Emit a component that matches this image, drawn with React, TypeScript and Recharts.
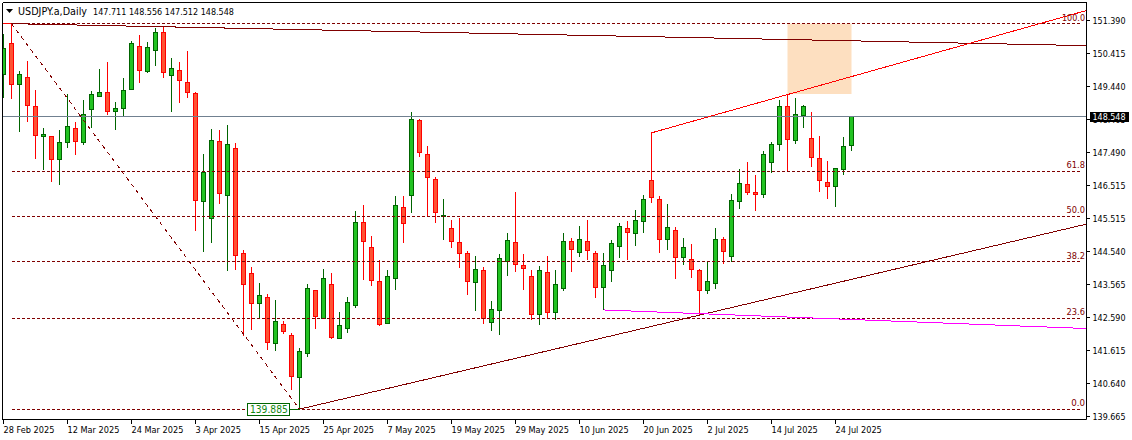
import React from "react";
import {
  ComposedChart,
  Bar,
  XAxis,
  YAxis,
  ReferenceLine,
  ReferenceArea,
  ReferenceDot,
} from "recharts";

const opens = [
  149.80, 150.72, 149.51, 149.71, 148.85, 147.97, 147.97, 147.29, 147.79, 148.20,
  147.79, 148.76, 149.15, 149.27, 148.70, 148.79, 149.36, 150.63, 149.89, 150.51,
  151.04, 149.77, 149.92, 149.56, 149.24, 146.04, 145.54, 147.82, 146.22, 147.61,
  144.50, 143.91, 143.02, 143.20, 141.84, 142.40, 142.08, 140.84, 141.55, 143.41,
  142.58, 143.59, 141.99, 142.29, 142.97, 145.42, 144.68, 143.68, 142.43, 143.76,
  145.87, 146.22, 148.44, 147.43, 146.69, 145.60, 145.25, 144.83, 144.50, 143.65,
  144.00, 142.46, 142.82, 144.27, 144.83, 144.15, 143.82, 142.70, 143.94, 142.76,
  143.47, 144.86, 144.53, 144.86, 144.50, 143.50, 144.00, 144.71, 145.25, 145.10,
  145.45, 146.66, 146.10, 144.92, 145.19, 144.39, 144.33, 144.00, 143.41, 143.62,
  144.92, 144.42, 146.04, 146.55, 146.31, 146.25, 147.20, 147.73, 148.85, 147.85,
  148.59, 147.91, 147.32, 146.60, 146.49, 146.99, 147.711,
];
const highs = [
  150.98, 151.29, 149.89, 150.19, 149.33, 148.20, 147.97, 148.14, 149.21, 148.38,
  149.03, 149.30, 149.95, 150.16, 148.97, 149.68, 150.78, 150.95, 150.75, 151.16,
  151.22, 150.27, 150.16, 150.48, 149.27, 147.43, 148.17, 148.14, 148.29, 147.76,
  144.59, 144.09, 143.62, 143.29, 143.11, 142.49, 142.14, 141.69, 143.59, 143.41,
  144.03, 143.91, 142.76, 143.20, 145.75, 145.92, 145.01, 144.30, 144.00, 146.19,
  146.19, 148.68, 148.47, 147.67, 146.75, 146.10, 145.48, 145.54, 144.56, 144.42,
  144.09, 143.08, 144.47, 145.10, 146.31, 144.47, 144.00, 144.12, 144.42, 144.00,
  145.10, 144.95, 145.30, 145.48, 144.56, 144.50, 144.89, 145.39, 145.45, 145.78,
  146.22, 148.06, 146.19, 145.95, 145.27, 144.95, 144.77, 144.03, 144.27, 145.25,
  144.98, 146.25, 146.99, 147.20, 146.81, 147.52, 147.79, 149.03, 149.21, 149.09,
  148.88, 148.68, 147.97, 147.23, 147.02, 147.94, 148.556,
];
const lows = [
  149.09, 149.06, 148.08, 148.38, 147.29, 146.96, 146.60, 146.52, 147.61, 147.40,
  147.70, 148.20, 149.12, 148.59, 148.14, 148.56, 149.36, 149.53, 149.83, 150.04,
  149.68, 148.68, 148.94, 149.09, 145.16, 144.53, 144.80, 145.95, 143.97, 144.00,
  142.05, 142.23, 142.58, 141.64, 141.61, 142.11, 140.45, 139.885, 141.43, 142.26,
  142.58, 141.96, 141.99, 142.14, 142.88, 143.71, 143.53, 142.35, 142.43, 143.41,
  144.80, 145.69, 147.35, 145.60, 145.39, 144.89, 144.65, 144.06, 143.26, 142.79,
  142.40, 142.20, 142.08, 143.82, 143.94, 143.41, 142.52, 142.38, 142.58, 142.52,
  143.38, 143.94, 144.39, 144.30, 143.17, 142.82, 143.65, 144.36, 144.30, 144.71,
  145.10, 145.98, 144.50, 144.59, 143.74, 144.15, 143.76, 142.67, 143.29, 143.44,
  144.18, 144.24, 145.81, 146.22, 145.75, 146.13, 146.87, 147.52, 146.93, 147.73,
  148.20, 147.05, 146.31, 146.10, 145.87, 146.81, 147.512,
];
const closes = [
  150.57, 149.51, 149.80, 148.88, 148.00, 148.03, 147.29, 147.79, 148.26, 147.82,
  148.62, 149.21, 149.27, 148.70, 148.79, 149.33, 150.72, 149.92, 150.60, 151.04,
  149.86, 149.98, 149.62, 149.27, 146.07, 146.90, 147.85, 146.28, 147.73, 144.45,
  143.59, 143.02, 143.26, 141.87, 142.49, 142.20, 140.87, 141.61, 143.47, 142.64,
  143.76, 142.02, 142.38, 143.05, 145.42, 144.86, 143.71, 142.40, 143.82, 145.92,
  145.39, 148.47, 147.49, 146.75, 145.72, 145.63, 144.86, 144.50, 143.68, 144.03,
  142.58, 142.85, 144.36, 144.89, 144.18, 144.06, 142.70, 144.00, 142.76, 143.59,
  144.86, 144.62, 144.92, 144.59, 143.50, 144.15, 144.80, 145.30, 145.13, 145.48,
  146.10, 146.16, 144.92, 145.27, 144.39, 144.68, 144.03, 143.41, 143.68, 144.92,
  144.56, 146.07, 146.58, 146.31, 146.25, 147.43, 147.73, 148.85, 147.88, 148.62,
  148.85, 147.35, 146.66, 146.49, 147.02, 147.67, 148.548,
];

const xTickIndex = [0, 8, 16, 24, 32, 40, 48, 56, 64, 72, 80, 88, 96, 104];
const xTickLabels = [
  "28 Feb 2025", "12 Mar 2025", "24 Mar 2025", "3 Apr 2025", "15 Apr 2025",
  "25 Apr 2025", "7 May 2025", "19 May 2025", "29 May 2025", "10 Jun 2025",
  "20 Jun 2025", "2 Jul 2025", "14 Jul 2025", "24 Jul 2025",
];
const yTicks = [
  151.39, 150.415, 149.44, 148.465, 147.49, 146.515, 145.54, 144.54, 143.565,
  142.59, 141.615, 140.64, 139.665,
];
const yTickLabels = [
  "151.390", "150.415", "149.440", "148.465", "147.490", "146.515", "145.515",
  "144.540", "143.565", "142.590", "141.615", "140.640", "139.665",
];

const fibLevels = [151.29, 146.93, 145.59, 144.24, 142.577, 139.885];
const fibLabels = ["100.0", "61.8", "50.0", "38.2", "23.6", "0.0"];

const LAST_PRICE = 148.548;
const LAST_PRICE_TICK = 3; // the price box sits on this axis tick and hides most of it
const X_MIN = -0.125;
const X_MAX = 135.375;
const Y_MIN = 139.579;
const Y_MAX = 151.916;
const FONT = "'DejaVu Sans Condensed', 'DejaVu Sans', sans-serif";
const FONT_SIZE = 9.4;
const DARK_RED = "#800000";

const candles = opens.map((open, i) => ({
  i,
  open,
  high: highs[i],
  low: lows[i],
  close: closes[i],
}));

function Candle(props: any) {
  const { x, y, width, height, payload } = props;
  const { open, high, low, close } = payload;
  const up = close >= open;
  const cx = Math.floor(x + width / 2) + 0.5;
  const toY = (p: number) => y + ((high - p) / (high - low)) * height;
  const top = Math.round(toY(Math.max(open, close))) + 0.5;
  const bottom = Math.round(toY(Math.min(open, close))) + 0.5;
  const wick = up ? "#006400" : "#FF0000";
  return (
    <g shapeRendering="crispEdges">
      <line x1={cx} x2={cx} y1={Math.round(y)} y2={Math.round(y + height)} stroke={wick} />
      <rect
        x={cx - 2}
        y={top}
        width={4}
        height={Math.max(bottom - top, 1)}
        fill={up ? "#22C322" : "#FF5233"}
        stroke={wick}
      />
    </g>
  );
}

function XTick(props: any) {
  const { x, y, index } = props;
  return (
    <g>
      <line x1={x} x2={x} y1={y} y2={y + 4} stroke="#000" shapeRendering="crispEdges" />
      <text x={x} y={y + 13} fontSize={9.1} fontFamily={FONT} fontStretch="condensed" fill="#000">
        {xTickLabels[index]}
      </text>
    </g>
  );
}

function YTick(props: any) {
  const { x, y, index } = props;
  const shared = {
    fontSize: FONT_SIZE,
    fontFamily: FONT,
    fontStretch: "condensed",
    textLength: 33,
    lengthAdjust: "spacingAndGlyphs",
  };
  return (
    <g>
      <line x1={x} x2={x + 3} y1={y} y2={y} stroke="#000" shapeRendering="crispEdges" />
      <text x={x + 6} y={y + 3.5} fill="#000" {...shared}>
        {yTickLabels[index]}
      </text>
      {index === LAST_PRICE_TICK && (
        <g>
          <rect x={x + 3} y={y - 7.5} width={39} height={10} fill="#000" shapeRendering="crispEdges" />
          <text x={x + 6} y={y + 0.8} fill="#fff" {...shared}>
            {LAST_PRICE.toFixed(3)}
          </text>
        </g>
      )}
    </g>
  );
}

const fibText = (label: string) => (props: any) => (
  <text
    x={props.cx - 1.5}
    y={props.cy - 3}
    textAnchor="end"
    fontSize={FONT_SIZE}
    fontFamily={FONT}
    fontStretch="condensed"
    textLength={label.length * 4.6}
    lengthAdjust="spacingAndGlyphs"
    fill={DARK_RED}
  >
    {label}
  </text>
);

const LowBox = (props: any) => (
  <g>
    <rect
      x={props.cx - 42}
      y={props.cy - 5.5}
      width={42}
      height={12}
      fill="#fff"
      stroke="#006400"
      shapeRendering="crispEdges"
    />
    <text
      x={props.cx - 40}
      y={props.cy + 4}
      fontSize={10.2}
      fontFamily={FONT}
      fontStretch="condensed"
      textLength={38}
      lengthAdjust="spacingAndGlyphs"
      fill="#118811"
    >
      139.885
    </text>
  </g>
);

export default function App() {
  return (
    <div style={{ position: "absolute", left: 0, top: 0, width: 1132, height: 440, background: "#fff" }}>
      <ComposedChart
        width={1132}
        height={440}
        data={candles}
        margin={{ top: 2.5, right: 0, bottom: 0, left: 2.5 }}
      >
        <XAxis
          dataKey="i"
          type="number"
          domain={[X_MIN, X_MAX]}
          allowDataOverflow
          ticks={xTickIndex}
          tick={<XTick />}
          tickLine={false}
          tickSize={0}
          tickMargin={0}
          axisLine={{ stroke: "#000" }}
          height={20.5}
          interval={0}
        />
        <YAxis
          orientation="right"
          type="number"
          domain={[Y_MIN, Y_MAX]}
          allowDataOverflow
          ticks={yTicks}
          tick={<YTick />}
          tickLine={false}
          tickSize={0}
          tickMargin={0}
          axisLine={{ stroke: "#000" }}
          width={45.5}
          interval={0}
        />

        <ReferenceArea x1={98} x2={106} y1={149.21} y2={151.29} fill="#FDDFC0" fillOpacity={1} stroke="none" />
        <ReferenceLine y={Y_MAX} stroke="#000" shapeRendering="crispEdges" />
        <ReferenceLine x={X_MIN} stroke="#000" shapeRendering="crispEdges" />
        <ReferenceLine y={LAST_PRICE} stroke="#708090" shapeRendering="crispEdges" />

        {fibLevels.map((level) => (
          <ReferenceLine
            key={level}
            segment={[{ x: 1, y: level }, { x: 134.8, y: level }]}
            stroke={DARK_RED}
            strokeDasharray="3 2"
            shapeRendering="crispEdges"
          />
        ))}
        <ReferenceLine
          segment={[{ x: 1, y: 151.29 }, { x: 37, y: 139.885 }]}
          stroke={DARK_RED}
          strokeDasharray="4 4"
          shapeRendering="crispEdges"
        />
        <ReferenceLine
          segment={[{ x: X_MIN, y: 151.29 }, { x: 1, y: 151.29 }]}
          stroke="#FF0000"
          shapeRendering="crispEdges"
        />
        <ReferenceLine
          segment={[{ x: 1, y: 151.29 }, { x: X_MAX, y: 150.64 }]}
          stroke={DARK_RED}
          shapeRendering="crispEdges"
        />
        <ReferenceLine
          segment={[{ x: 37, y: 139.885 }, { x: X_MAX, y: 145.36 }]}
          stroke={DARK_RED}
          shapeRendering="crispEdges"
        />
        <ReferenceLine
          segment={[{ x: 81, y: 148.06 }, { x: X_MAX, y: 151.68 }]}
          stroke="#FF0000"
          shapeRendering="crispEdges"
        />
        <ReferenceLine
          segment={[{ x: 75, y: 142.82 }, { x: X_MAX, y: 142.27 }]}
          stroke="#FF00FF"
          shapeRendering="crispEdges"
        />
        <ReferenceLine
          segment={[{ x: 35.8, y: 139.885 }, { x: 37, y: 139.885 }]}
          stroke="#006400"
          shapeRendering="crispEdges"
        />

        <Bar
          dataKey={(d: any) => [d.low, d.high]}
          barSize={5}
          shape={<Candle />}
          isAnimationActive={false}
        />

        {fibLevels.map((level, i) => (
          <ReferenceDot
            key={level}
            x={X_MAX}
            y={level}
            ifOverflow="visible"
            shape={fibText(fibLabels[i])}
          />
        ))}
        <ReferenceDot x={35.8} y={139.885} ifOverflow="visible" shape={LowBox} />

        <polygon points="6,9 13,9 9.5,13" fill="#000" />
        <text
          x={18}
          y={14.5}
          fontSize={10}
          fontFamily={FONT}
          fontStretch="condensed"
          textLength={69}
          lengthAdjust="spacingAndGlyphs"
          fill="#000"
        >
          USDJPY.a,Daily
        </text>
        <text
          x={93}
          y={14.5}
          fontSize={FONT_SIZE}
          fontFamily={FONT}
          fontStretch="condensed"
          textLength={141}
          lengthAdjust="spacingAndGlyphs"
          fill="#000"
        >
          147.711 148.556 147.512 148.548
        </text>
      </ComposedChart>
    </div>
  );
}
